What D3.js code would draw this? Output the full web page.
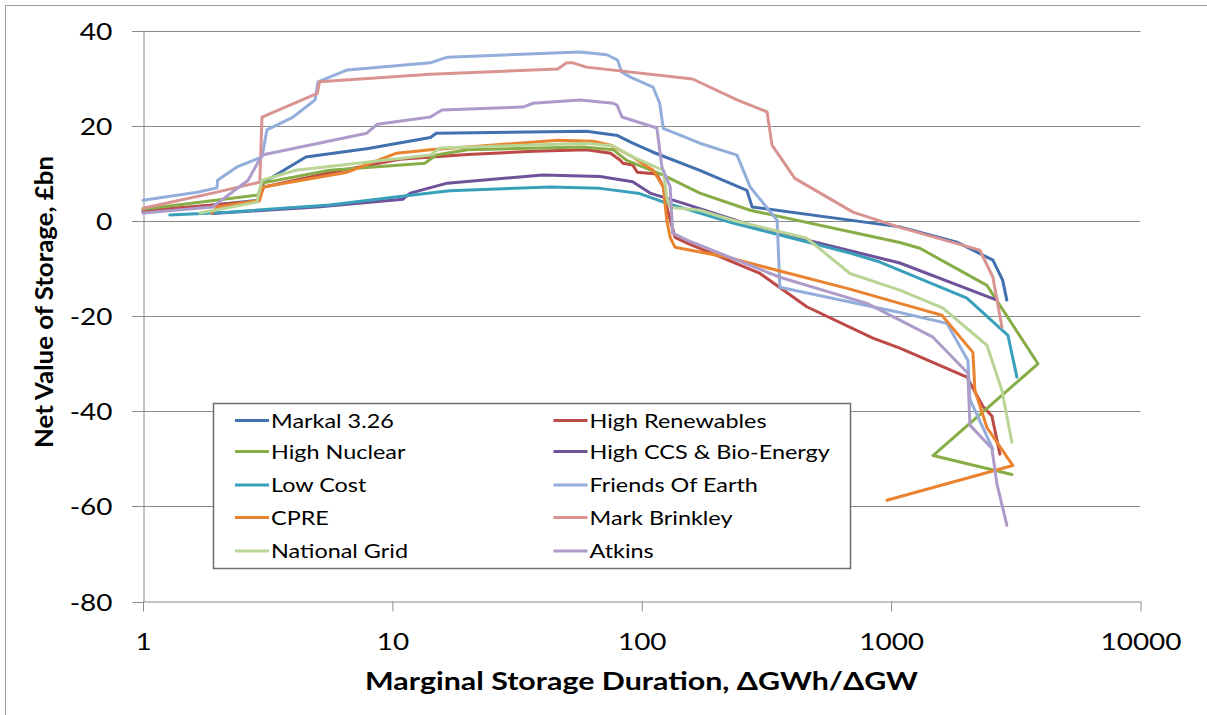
<!DOCTYPE html>
<html>
<head>
<meta charset="utf-8">
<script src="https://cdn.jsdelivr.net/npm/d3@7"></script>
<style>
  html, body { margin: 0; padding: 0; background: #fff; }
  svg { display: block; font-family: Lato, "Open Sans", sans-serif; }
</style>
</head>
<body>
<svg id="chart" width="1207" height="715"></svg>
<script>
// ---------------- DATA ----------------
const seriesNames = ["Markal 3.26", "High Renewables", "High Nuclear", "High CCS & Bio-Energy",
  "Low Cost", "Friends Of Earth", "CPRE", "Mark Brinkley", "National Grid", "Atkins"];

const markal = [[1,1.8],[2.9,4.4],[3.05,8.2],[4.5,13.5],[8,15.3],[14.2,17.6],[15,18.5],[60,18.9],[80,18],[92,16.4],[111,14.5],[171,10.7],[264,6.5],[277,3],[1084,-1.2],[1836,-4.4],[2560,-8.2],[2800,-12.4],[2910,-16.6]];
const highRenewables = [[1,2.2],[2.9,4.2],[3.05,7.2],[6,10.5],[10.7,13],[20,14],[37,14.7],[60,15],[75,14.3],[82,12.8],[84,12.2],[92,11.8],[96,10.3],[115,9.9],[122,7.2],[127,2.3],[136,-3.4],[152,-4.6],[298,-11],[459,-18],[845,-24.6],[1084,-26.7],[2014,-32.8],[2335,-39],[2536,-41],[2730,-49]];
const highNuclear = [[1,2.5],[2.9,5.5],[3.0,8],[5.6,10.7],[13.5,12.2],[15,13.9],[20,15],[58,15.6],[77,15],[87,12.8],[122,9.7],[171,5.9],[272,2.3],[1084,-4.5],[1304,-5.7],[2422,-13.5],[3880,-30],[1472,-49.3],[3050,-53.3]];
const highCCS = [[1.9,1.6],[5,3],[11,4.6],[11.8,5.9],[16.6,8],[40,9.7],[68,9.4],[92,8.3],[108,5.9],[146,3.8],[318,-1.9],[1084,-8.8],[2655,-16.6]];
const lowCost = [[1.28,1.3],[2.2,1.9],[5.6,3.4],[10.7,5.2],[17,6.4],[43,7.2],[68,6.9],[98,5.8],[126,3.8],[232,-0.4],[684,-6.7],[902,-8.6],[2014,-16.2],[2940,-24],[3194,-32.8]];
const friendsOfEarth = [[1,4.4],[1.65,6.1],[1.98,7],[1.99,8.6],[2.38,11.4],[3.0,13.5],[3.14,19.2],[4.0,21.9],[4.9,25.5],[5.03,29.3],[6.6,31.8],[14.2,33.3],[16.6,34.5],[56.5,35.6],[72.5,35],[80,33.9],[83,31.4],[90,30.3],[111,28.2],[118,24.8],[122,19.5],[171,16.4],[241,13.9],[272,7.2],[349,0.2],[358,-13.9],[1084,-19.2],[1674,-21.5],[2032,-29.3],[2070,-37.5],[2560,-48]];
const cpre = [[1.89,1.7],[1.98,3],[2.94,4.4],[3.03,7.2],[6.6,10.3],[10.4,14.3],[14.2,15],[20,15.6],[46,17],[64,16.8],[75,16],[92,13.5],[111,10.7],[122,7.2],[126,0.2],[130,-3.4],[136,-5.5],[220,-7.6],[684,-14.3],[1084,-17.3],[1598,-19.8],[2128,-27.6],[2168,-35.6],[2422,-43.4],[3077,-51.4],[962,-58.7]];
const markBrinkley = [[1,2.7],[1.9,5.9],[2.94,8.2],[3.0,21.9],[5.0,26.9],[5.1,29.3],[14.2,30.9],[46,32],[50,33.3],[53,33.3],[60,32.4],[160,29.9],[241,25.5],[318,23],[333,16],[411,9],[703,1.9],[1084,-1.3],[2270,-6.1],[2560,-11.8],[2782,-22.3]];
const nationalGrid = [[1.69,1.7],[2.86,4],[3.0,8.6],[4.1,10.7],[14.2,13.9],[15.5,15.4],[60,16.4],[77,15.8],[92,13.5],[122,10.7],[126,5],[130,2.9],[171,2.3],[232,0.2],[459,-3.6],[684,-11],[1084,-14.5],[1614,-18.3],[2422,-26.1],[2782,-35.6],[3050,-46.5]];
const atkins = [[1,1.7],[1.9,3],[2.64,8.6],[3.0,13.9],[7.9,18.5],[8.7,20.4],[14.2,21.9],[15.8,23.4],[33.4,24],[36.6,24.8],[56.5,25.5],[76.7,24.8],[79.6,24.4],[83.3,21.9],[115,19.6],[120.5,11.4],[130,7.2],[133,-2.5],[152,-4],[358,-11.8],[800,-17.3],[1084,-20.8],[1472,-24.4],[2032,-32],[2070,-42.9],[2536,-47.8],[2655,-55.2],[2912,-64]];

const xTickValues = [1, 10, 100, 1000, 10000];
const yTickValues = [-80, -60, -40, -20, 0, 20, 40];
const xTitle = "Marginal Storage Duration, \u0394GWh/\u0394GW";
const yTitle = "Net Value of Storage, \u00a3bn";

// ---------------- STYLE ----------------
const colors = ["#4170ae", "#bd4a47", "#87ad47", "#6f5299", "#39a0bb", "#93aedb", "#e9832f", "#d99391", "#b9d596", "#ad9bc9"];
const allSeries = [markal, highRenewables, highNuclear, highCCS, lowCost, friendsOfEarth, cpre, markBrinkley, nationalGrid, atkins];
const gridColor = "#8a8a8a";

const svg = d3.select("#chart");

// outer frame (top and left edges visible)
svg.append("path").attr("d", "M5.5,715 V5.5 H1207").attr("fill", "none").attr("stroke", "#9a9a9a").attr("stroke-width", 1);

const x = d3.scaleLog().domain([1, 10000]).range([143, 1140.5]);
const y = d3.scaleLinear().domain([-80, 40]).range([601.5, 31]);

// gridlines
svg.append("g").selectAll("line").data(yTickValues.filter(v => v !== -80)).join("line")
  .attr("x1", 132).attr("x2", 1140.5)
  .attr("y1", d => Math.round(y(d)) + 0.5).attr("y2", d => Math.round(y(d)) + 0.5)
  .attr("stroke", gridColor).attr("stroke-width", 1);

// y axis
const yAxis = svg.append("g").attr("transform", "translate(143.5,0)")
  .call(d3.axisLeft(y).tickValues(yTickValues).tickSize(11).tickSizeOuter(0).tickPadding(20).tickFormat(d => String(d)));
yAxis.select(".domain").attr("stroke", gridColor);
yAxis.selectAll(".tick line").attr("stroke", gridColor);
yAxis.selectAll(".tick").attr("transform", d => `translate(0,${Math.round(y(d)) + 0.5})`);
yAxis.selectAll("text").attr("font-family", "Lato").attr("font-size", 24).attr("fill", "#000")
  .attr("dy", "0.36em")
  .attr("textLength", d => { const s = String(d); return s.replace("-", "").length * 16.4 + (s.startsWith("-") ? 10 : 0); })
  .attr("lengthAdjust", "spacingAndGlyphs");

// x axis
const xAxis = svg.append("g").attr("transform", "translate(0,601.5)")
  .call(d3.axisBottom(x).tickValues(xTickValues).tickSize(10).tickSizeOuter(0).tickFormat(d => String(d)));
xAxis.select(".domain").attr("stroke", gridColor);
xAxis.selectAll(".tick line").attr("stroke", gridColor);
xAxis.selectAll("text").attr("font-family", "Lato").attr("font-size", 24).attr("fill", "#000")
  .attr("y", 48).attr("dy", 0)
  .attr("textLength", d => String(d).length * 16.2)
  .attr("lengthAdjust", "spacingAndGlyphs");

// series lines
const line = d3.line().x(d => x(d[0])).y(d => y(d[1]));
svg.append("g").selectAll("path").data(allSeries).join("path")
  .attr("d", line)
  .attr("fill", "none")
  .attr("stroke", (d, i) => colors[i])
  .attr("stroke-width", 3)
  .attr("stroke-linejoin", "round")
  .attr("stroke-linecap", "round");

// legend
const legend = svg.append("g");
legend.append("rect").attr("x", 213.5).attr("y", 403.5).attr("width", 637).attr("height", 165)
  .attr("fill", "#fff").attr("stroke", "#6e6e6e").attr("stroke-width", 1.5);
const legendRows = [420.5, 451.5, 485, 517.5, 551];
const legendCols = [235, 553.5];
const items = legend.selectAll("g.item").data(seriesNames).join("g").attr("class", "item")
  .attr("transform", (d, i) => `translate(${legendCols[i % 2]},${legendRows[Math.floor(i / 2)]})`);
items.append("line").attr("x1", 0).attr("x2", 34).attr("y1", 0).attr("y2", 0)
  .attr("stroke", (d, i) => colors[i]).attr("stroke-width", 3);
items.append("text").attr("x", 36).attr("y", 0).attr("dy", "0.35em")
  .attr("font-family", "Lato").attr("font-size", 20).attr("fill", "#000")
  .text(d => d)
  .each(function () {
    const w = this.getComputedTextLength();
    d3.select(this).attr("textLength", w * 1.17).attr("lengthAdjust", "spacingAndGlyphs");
  });

// axis titles
svg.append("text").attr("x", 641.5).attr("y", 690).attr("text-anchor", "middle")
  .attr("font-family", "Lato").attr("font-weight", "bold").attr("font-size", 25.5).attr("fill", "#000")
  .attr("textLength", 553).attr("lengthAdjust", "spacingAndGlyphs")
  .text(xTitle);
svg.append("text").attr("transform", "translate(53,302) rotate(-90)").attr("text-anchor", "middle")
  .attr("font-family", "Lato").attr("font-weight", "bold").attr("font-size", 25).attr("fill", "#000")
  .attr("textLength", 292).attr("lengthAdjust", "spacingAndGlyphs")
  .text(yTitle);
</script>
</body>
</html>
